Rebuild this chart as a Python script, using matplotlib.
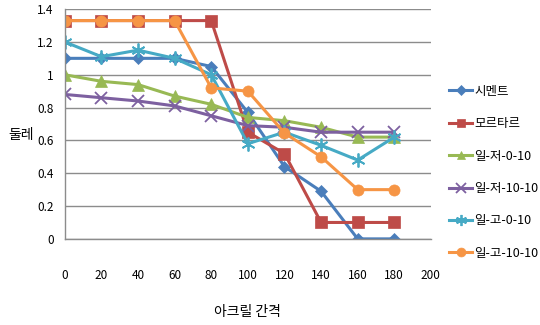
import matplotlib
matplotlib.use("Agg")
import matplotlib.pyplot as plt

plt.rcParams['font.family'] = ['Noto Sans CJK KR', 'DejaVu Sans']

x_vals = [0, 20, 40, 60, 80, 100, 120, 140, 160, 180]
series_names = ['시멘트', '모르타르', '일-저-0-10', '일-저-10-10', '일-고-0-10', '일-고-10-10']
cement = [1.10, 1.10, 1.10, 1.10, 1.05, 0.77, 0.44, 0.29, 0.0, 0.0]
mortar = [1.33, 1.33, 1.33, 1.33, 1.33, 0.65, 0.52, 0.10, 0.10, 0.10]
il_jeo_0_10 = [1.00, 0.96, 0.94, 0.87, 0.82, 0.74, 0.72, 0.68, 0.62, 0.62]
il_jeo_10_10 = [0.88, 0.86, 0.84, 0.81, 0.75, 0.69, 0.68, 0.65, 0.65, 0.65]
il_go_0_10 = [1.20, 1.11, 1.15, 1.10, 1.00, 0.58, 0.65, 0.57, 0.48, 0.62]
il_go_10_10 = [1.33, 1.33, 1.33, 1.33, 0.92, 0.90, 0.645, 0.50, 0.30, 0.30]
y_ticks = [0, 0.2, 0.4, 0.6, 0.8, 1.0, 1.2, 1.4]
y_tick_labels = ['0', '0.2', '0.4', '0.6', '0.8', '1', '1.2', '1.4']
x_ticks = [0, 20, 40, 60, 80, 100, 120, 140, 160, 180, 200]

colors = ['#4A7EBB', '#BE4B48', '#98B954', '#7D60A0', '#46AAC5', '#F69545']
markers = ['D', 's', '^', 'x', (6, 2, 0), 'o']
msizes = [6, 8, 8, 9, 10, 8]
data = [cement, mortar, il_jeo_0_10, il_jeo_10_10, il_go_0_10, il_go_10_10]

fig = plt.figure(figsize=(5.4, 3.25), dpi=100)
ax = fig.add_axes([0.120, 0.265, 0.678, 0.707])

for name, ys, c, m, ms in zip(series_names, data, colors, markers, msizes):
    thin = m in ('x',) or isinstance(m, tuple)
    ax.plot(x_vals, ys, color=c, marker=m, markersize=ms, linewidth=2.2,
            markeredgewidth=1.3 if thin else 0.5, label=name,
            markeredgecolor=c)

ax.set_xlim(0, 200)
ax.set_ylim(0, 1.4)
ax.set_yticks(y_ticks)
ax.set_yticklabels(y_tick_labels)
ax.set_xticks(x_ticks)
ax.tick_params(axis='both', length=0, labelsize=8.5)
ax.tick_params(axis='x', pad=22)
ax.tick_params(axis='y', pad=8)
ax.grid(axis='y', color='#8c8c8c', linewidth=1)
ax.set_axisbelow(True)
for s in ['top', 'right']:
    ax.spines[s].set_visible(False)
for s in ['left', 'bottom']:
    ax.spines[s].set_color('#8c8c8c')
    ax.spines[s].set_linewidth(1)

ax.set_ylabel('둘레', rotation=0, fontsize=10, va='center')
ax.yaxis.set_label_coords(-0.12, 0.45)
ax.set_xlabel('아크릴 간격', fontsize=10, labelpad=16)

ax.legend(loc='center left', bbox_to_anchor=(1.02, 0.29), frameon=False,
          fontsize=9, handlelength=1.8, labelspacing=1.55, handletextpad=0.2,
          markerscale=0.8)

fig.savefig('out.png', dpi=100)
